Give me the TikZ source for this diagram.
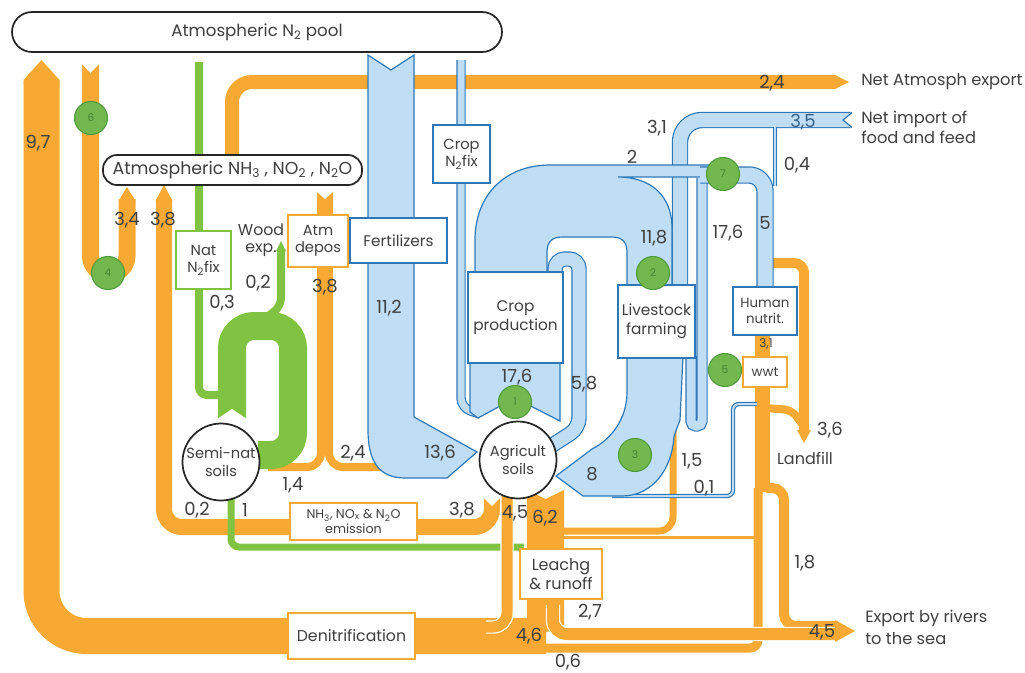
\documentclass[tikz,border=0pt]{standalone}
\usepackage{fontspec}
\setmainfont{Poppins}
\newdimen\pxu \pxu=0.75pt
\definecolor{ora}{HTML}{F7A934}
\definecolor{bfill}{HTML}{BFDDF5}
\definecolor{bedge}{HTML}{2E78B7}
\definecolor{lime}{HTML}{80C343}
\definecolor{gcirc}{HTML}{73B84F}
\definecolor{gcedge}{HTML}{4F9A3B}
\definecolor{txt}{HTML}{3F3F3F}
\tikzset{
 ob/.style={draw=ora, line width=#1\pxu},
 owb/.style={draw=white, line width=0.9pt, double=ora, double distance=#1\pxu},
 gb/.style={draw=lime, line width=#1\pxu},
 bb/.style={draw=bedge, line width=0.9pt, double=bfill, double distance=#1\pxu},
 bshape/.style={fill=bfill, draw=bedge, line width=0.9pt},
 gc/.style={circle, fill=gcirc, draw=gcedge, line width=0.8pt, minimum size=33\pxu, inner sep=0pt, text=gcedge!85!black, font=\fontsize{8}{8}\selectfont},
 box/.style={draw=#1, fill=white, line width=1.1pt, inner sep=0pt, text=txt, align=center, font=\fontsize{11}{13}\selectfont},
 lab/.style={text=txt, font=\fontsize{13.5}{14}\selectfont, inner sep=0pt},
 side/.style={text=txt, font=\fontsize{12.2}{13}\selectfont, inner sep=0pt, anchor=west},
 soil/.style={circle, draw=black!85, line width=1.3pt, fill=white, minimum size=77\pxu, inner sep=0pt, align=center, text=txt, font=\fontsize{11}{13}\selectfont},
}
\begin{document}
\begin{tikzpicture}[x=0.75pt,y=-0.75pt]
\useasboundingbox (0,0) rectangle (1025,672);
% ---------- orange flows ----------
\draw[ob=14, rounded corners=20\pxu] (232,156) -- (232,82) -- (836,82);
\fill[ora] (835,75) -- (849,82) -- (835,89) -- cycle;
\draw[ob=36, rounded corners=45\pxu] (41.5,82) -- (41.5,636) -- (546,636);
\fill[ora] (23.5,84) -- (23.5,80) -- (41.5,60) -- (59.5,80) -- (59.5,84) -- cycle;
\draw[ob=17, rounded corners=18\pxu] (90.5,64) -- (90.5,274) -- (127,274) -- (127,199);
\fill[white] (81,63) -- (90.5,73) -- (100,63) -- cycle;
\fill[ora] (118.5,201) -- (127,187) -- (135.5,201) -- cycle;
\draw[ob=16, rounded corners=18\pxu] (164,199) -- (164,527) -- (492,527) -- (492,498);
\fill[ora] (155.5,201) -- (164,185) -- (172.5,201) -- cycle;
\fill[white] (483,497) -- (492,506) -- (501,497) -- cycle;
\draw[ob=8, rounded corners=14\pxu] (321,192) -- (321,467) -- (268,467);
\draw[ob=8, rounded corners=14\pxu] (329,192) -- (329,467) -- (405,467);
\fill[white] (316,191) -- (325,199) -- (334,191) -- cycle;
% green line 1 (under the soil outflows)
\draw[gb=7, rounded corners=8\pxu] (231,497) -- (231,547) -- (524,547);
\draw[owb=11, rounded corners=14\pxu] (507,492) -- (507,627) -- (486,627);
\fill[ora] (527,490) -- (545.5,499) -- (564,490) -- (564,625) -- (527,640) -- cycle;
\draw[ob=9, rounded corners=8\pxu] (540,648) -- (758,648) -- (758,488);
\draw[ob=15] (762,335) -- (762,492);
\draw[ob=10, rounded corners=12\pxu] (766,488) -- (784,488) -- (784,626) -- (838,626);
\draw[owb=12, rounded corners=14\pxu] (553,605) -- (553,634) -- (838,634);
\fill[ora] (835,620) -- (855,631) -- (835,642) -- cycle;
\draw[ob=10, rounded corners=10\pxu] (771,263) -- (804,263) -- (804,432);
\fill[ora] (797,430) -- (804,443) -- (811,430) -- cycle;
\draw[ob=8, rounded corners=8\pxu] (765,408) -- (792,410) -- (802,424);
\draw[ob=7, rounded corners=14\pxu] (673,425) -- (673,531) -- (560,531);
\draw[ora, line width=2.5\pxu] (560,537.5) -- (757,537.5);
% ---------- green flows ----------
\draw[gb=8, rounded corners=8\pxu] (199,62) -- (199,395) -- (222,395);
\draw[gb=8, rounded corners=8\pxu] (281,250) -- (281,306) -- (266,318);
\fill[lime] (276,251) -- (281,241) -- (286,251) -- cycle;
\draw[gb=28, rounded corners=22\pxu] (232,418) -- (232,326) -- (293,326) -- (293,455) -- (258,455);
\fill[white] (217,419) -- (232,409) -- (247,419) -- cycle;
% ---------- blue flows ----------
\draw[bb=14, rounded corners=22\pxu] (680,290) -- (680,120) -- (851,120);
\fill[white] (852,111) -- (843,120) -- (852,129) -- cycle;
\draw[bedge, line width=0.9pt] (852,112.5) -- (843,120) -- (852,127.5);
\draw[bb=1.5] (775,127) -- (775,186);
\draw[bb=7, rounded corners=10\pxu] (461,60) -- (461,408) -- (480,414);
\filldraw[bshape] (368,55) -- (391,70) -- (414,55) -- (414,417) -- (477,452) -- (447,478) -- (405,478) .. controls (378,478) and (368,460) .. (368,430) -- cycle;
\filldraw[bshape] (470,362) -- (560,362) -- (560,421) -- (515,398) -- (478,418) -- (470,412) -- cycle;
\filldraw[bshape] (475,272) -- (475,240) .. controls (475,195) and (505,165) .. (550,165) -- (712,165) -- (712,177) -- (618,177) .. controls (650,177) and (672,195) .. (672,228) -- (672,286) -- (627,286) -- (627,252) .. controls (627,242) and (622,237) .. (612,237) -- (562,237) .. controls (552,237) and (547,242) .. (547,252) -- (547,272) -- cycle;
\draw[bb=13, rounded corners=10\pxu] (555,274) -- (555,259) -- (579,259) -- (579,428) -- (551,446);
\draw[bb=9, rounded corners=5\pxu] (691,356) -- (691,426) -- (702,426) -- (702,178);
\draw[bb=15, rounded corners=16\pxu] (700,175) -- (765,175) -- (765,289);
\draw[bb=2, rounded corners=6\pxu] (757,404) -- (733,404) -- (733,496) -- (612,496);
\filldraw[bshape] (627,356) -- (627,392) .. controls (627,420) and (610,440) .. (592,449) -- (556,476) -- (583,496) -- (622,496) .. controls (652,496) and (672,470) .. (674,436) -- (680,420) -- (683,356) -- cycle;
% ---------- boxes ----------
\node[draw=black!85, line width=1.3pt, fill=white, rounded corners=20\pxu, minimum width=490\pxu, minimum height=40\pxu, text=txt, font=\fontsize{12.5}{13}\selectfont] (n2pool) at (257,32) {Atmospheric N\textsubscript{2} pool};
\node[draw=black!85, line width=1.3pt, fill=white, rounded corners=14\pxu, minimum width=259\pxu, minimum height=30\pxu, text=txt, font=\fontsize{13}{13}\selectfont] (nh3) at (232.5,170) {Atmospheric NH\textsubscript{3} , NO\textsubscript{2} , N\textsubscript{2}O};
\node[box=lime, minimum width=55\pxu, minimum height=58\pxu] (natfix) at (203.5,260) {Nat\\N\textsubscript{2}fix};
\node[box=ora, minimum width=60\pxu, minimum height=52\pxu] (atmdep) at (318,241) {Atm\\depos};
\node[box=bedge, minimum width=97\pxu, minimum height=45\pxu, font=\fontsize{11.5}{13}\selectfont] (fert) at (398.5,240.5) {Fertilizers};
\node[box=bedge, minimum width=57\pxu, minimum height=58\pxu] (cropfix) at (461.5,154) {Crop\\N\textsubscript{2}fix};
\node[box=bedge, minimum width=95\pxu, minimum height=91\pxu, font=\fontsize{11.5}{14}\selectfont] (cropprod) at (515.5,317.5) {Crop\\production};
\node[box=bedge, minimum width=77\pxu, minimum height=73\pxu, font=\fontsize{11.5}{14}\selectfont] (live) at (656.5,321.5) {Livestock\\farming};
\node[box=bedge, minimum width=64\pxu, minimum height=48\pxu, font=\fontsize{10}{12}\selectfont] (human) at (765,311) {Human\\nutrit.};
\node[box=ora, minimum width=44\pxu, minimum height=30\pxu, font=\fontsize{10}{11}\selectfont] (wwt) at (765,372) {wwt};
\node[box=ora, minimum width=127\pxu, minimum height=37\pxu, font=\fontsize{9.5}{11}\selectfont] (emis) at (353.5,521.5) {NH\textsubscript{3}, NO\textsubscript{x} \& N\textsubscript{2}O\\emission};
\node[box=ora, minimum width=82\pxu, minimum height=50\pxu, font=\fontsize{12}{14}\selectfont] (leach) at (561,574) {Leachg\\\& runoff};
\node[box=ora, minimum width=127\pxu, minimum height=46\pxu, font=\fontsize{11.8}{13}\selectfont] (denit) at (351.5,636) {Denitrification};
\node[soil] (semi) at (221,462) {Semi-nat\\soils};
\node[soil] (agri) at (518,460) {Agricult\\soils};
% ---------- green markers ----------
\node[gc] (c6) at (91,118) {6};
\node[gc] (c4) at (108,273) {4};
\node[gc] (c1) at (515,402) {1};
\node[gc] (c2) at (653,273) {2};
\node[gc] (c3) at (635,455) {3};
\node[gc] (c7) at (723,174) {7};
\node[gc] (c5) at (725,370) {5};
% ---------- numbers ----------
\node[lab] (l97) at (38,143) {9,7};
\node[lab] (l34) at (127,220) {3,4};
\node[lab] (l38a) at (163,220) {3,8};
\node[lab] (l03) at (222,303) {0,3};
\node[lab] (l02a) at (258,283) {0,2};
\node[lab, align=center, font=\fontsize{11.8}{13}\selectfont] (lwood) at (261,240) {Wood\\exp.};
\node[lab] (l38b) at (325,287) {3,8};
\node[lab] (l112) at (389,308) {11,2};
\node[lab] (l24a) at (772,83) {2,4};
\node[lab] (l31) at (657,128) {3,1};
\node[lab] (l2) at (632,157) {2};
\node[lab, text=bedge!60!txt] (l35) at (803,122) {3,5};
\node[lab] (l04) at (797,165) {0,4};
\node[lab] (l118) at (654,238) {11,8};
\node[lab] (l176a) at (728,233) {17,6};
\node[lab] (l5) at (765,223) {5};
\node[lab] (l58) at (584,384) {5,8};
\node[lab] (l176b) at (517,377) {17,6};
\node[lab] (l136) at (440,453) {13,6};
\node[lab] (l24b) at (353,453) {2,4};
\node[lab] (l14) at (293,485) {1,4};
\node[lab] (l8) at (592,474) {8};
\node[lab] (l15) at (692,461) {1,5};
\node[lab] (l01) at (704,488) {0,1};
\node[lab] (l36) at (830,430) {3,6};
\node[lab, font=\fontsize{12}{13}\selectfont] (lland) at (805,458) {Landfill};
\node[lab, font=\fontsize{9}{10}\selectfont] (l31b) at (766,344) {3,1};
\node[lab] (l02b) at (197,510) {0,2};
\node[lab] (l1) at (245,510) {1};
\node[lab] (l38c) at (462,510) {3,8};
\node[lab] (l45a) at (515,513) {4,5};
\node[lab] (l62) at (545,518) {6,2};
\node[lab] (l18) at (805,563) {1,8};
\node[lab] (l27) at (590,612) {2,7};
\node[lab] (l46) at (529,636) {4,6};
\node[lab] (l06) at (568,662) {0,6};
\node[lab] (l45b) at (822,632) {4,5};
% ---------- side texts ----------
\node[side] (tatm) at (861,82) {Net Atmosph export};
\node[side] (timp1) at (861,119) {Net import of};
\node[side] (timp2) at (861,137) {food and feed};
\node[side] (texp1) at (865,618) {Export by rivers};
\node[side] (texp2) at (865,639) {to the sea};
\end{tikzpicture}
\end{document}
